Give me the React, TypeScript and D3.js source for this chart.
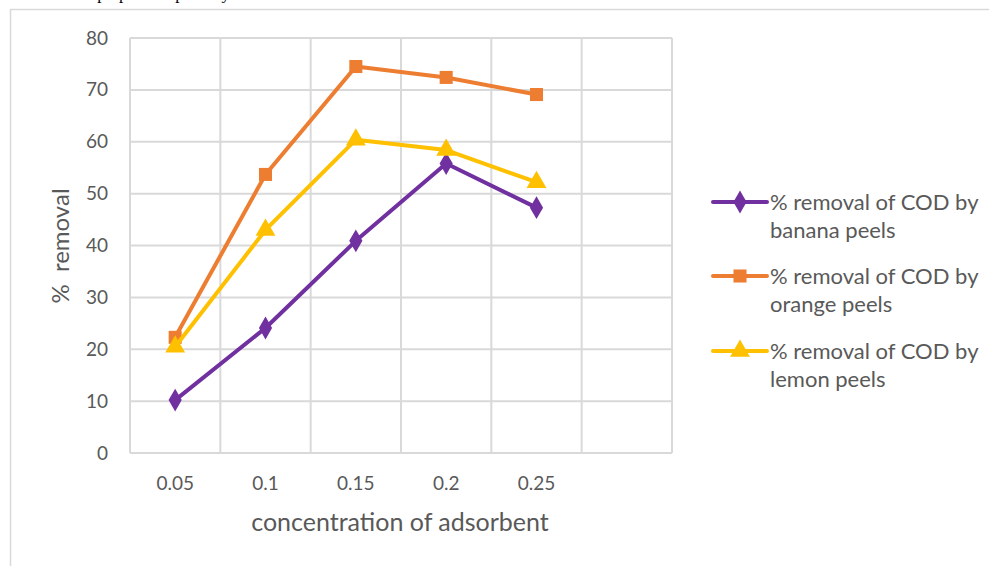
import { useRef, useEffect } from 'react';
import * as d3 from 'd3';

const categories = ['0.05', '0.1', '0.15', '0.2', '0.25', ' '];
const tickLabels = ['0.05', '0.1', '0.15', '0.2', '0.25'];
const yTicks = [0, 10, 20, 30, 40, 50, 60, 70, 80];

const banana = [10.2, 24.1, 40.9, 55.8, 47.3];
const orange = [22.3, 53.7, 74.5, 72.4, 69.1];
const lemon = [20.5, 43.0, 60.4, 58.4, 52.2];

const seriesNames = [
  ['% removal of COD by', 'banana peels'],
  ['% removal of COD by', 'orange peels'],
  ['% removal of COD by', 'lemon peels'],
];
const colors = ['#7030a0', '#ed7d31', '#ffc000'];
const symbols = [d3.symbolDiamond, d3.symbolSquare, d3.symbolTriangle];
const symbolSizes = [150, 170, 170];

const W = 989;
const H = 566;
const FONT = 'Lato, "Open Sans", sans-serif';

const App = () => {
  const svgRef = useRef<SVGSVGElement>(null);

  useEffect(() => {
    const svg = d3.select(svgRef.current);
    svg.selectAll('*').remove();

    // line of page text above the chart, only its descenders show
    svg.append('text')
      .attr('x', 60)
      .attr('y', -1)
      .attr('font-family', '"Liberation Serif", serif')
      .attr('font-size', 17)
      .attr('fill', '#000')
      .text('were prepared separately');

    // chart frame
    svg.append('rect')
      .attr('x', 10.5)
      .attr('y', 9.5)
      .attr('width', W + 20)
      .attr('height', H + 20)
      .attr('fill', '#fff')
      .attr('stroke', '#d9d9d9')
      .attr('stroke-width', 1.5);

    const xScale = d3.scaleBand<string>()
      .domain(categories)
      .range([130, 672])
      .padding(0);

    const yScale = d3.scaleLinear()
      .domain([0, 80])
      .range([453, 38]);

    const grid = svg.append('g').attr('stroke', '#d9d9d9').attr('stroke-width', 2);
    yTicks.forEach(t => {
      grid.append('line')
        .attr('x1', 130).attr('x2', 672)
        .attr('y1', yScale(t)).attr('y2', yScale(t));
    });
    [...categories.map(c => xScale(c) as number), 672].forEach(x => {
      grid.append('line')
        .attr('x1', x).attr('x2', x)
        .attr('y1', yScale(80)).attr('y2', yScale(0));
    });

    // y axis labels
    const yAxis = svg.append('g')
      .attr('transform', 'translate(130,0)')
      .call(d3.axisLeft(yScale).tickValues(yTicks).tickSize(0).tickPadding(22));
    yAxis.select('.domain').remove();
    yAxis.selectAll('text')
      .attr('font-family', FONT)
      .attr('font-size', 19)
      .attr('fill', '#595959');

    // x axis labels
    const xAxis = svg.append('g')
      .attr('transform', 'translate(0,453)')
      .call(d3.axisBottom(xScale).tickValues(tickLabels).tickSize(0).tickPadding(24));
    xAxis.select('.domain').remove();
    xAxis.selectAll('text')
      .attr('font-family', FONT)
      .attr('font-size', 19)
      .attr('fill', '#595959');

    // axis titles
    svg.append('text')
      .attr('transform', 'translate(69,246) rotate(-90)')
      .attr('text-anchor', 'middle')
      .attr('font-family', FONT)
      .attr('font-size', 24)
      .attr('fill', '#595959')
      .attr('xml:space', 'preserve')
      .style('white-space', 'pre')
      .text('%  removal');

    svg.append('text')
      .attr('x', 400)
      .attr('y', 531)
      .attr('text-anchor', 'middle')
      .attr('font-family', FONT)
      .attr('font-size', 25)
      .attr('fill', '#595959')
      .text('concentration of adsorbent');

    const xc = (i: number) => (xScale(categories[i]) as number) + xScale.bandwidth() / 2;
    const line = d3.line<number>()
      .x((_, i) => xc(i))
      .y(d => yScale(d));

    [banana, orange, lemon].forEach((vals, si) => {
      svg.append('path')
        .datum(vals)
        .attr('d', line)
        .attr('fill', 'none')
        .attr('stroke', colors[si])
        .attr('stroke-width', 4)
        .attr('stroke-linejoin', 'round');

      svg.append('g')
        .selectAll('path')
        .data(vals)
        .enter()
        .append('path')
        .attr('transform', (d, i) => `translate(${xc(i)},${yScale(d)})`)
        .attr('d', d3.symbol().type(symbols[si]).size(symbolSizes[si])())
        .attr('fill', colors[si]);
    });

    // legend
    const legendY = [202, 276, 351];
    seriesNames.forEach((name, si) => {
      const g = svg.append('g').attr('transform', `translate(0,${legendY[si]})`);
      g.append('line')
        .attr('x1', 713).attr('x2', 767)
        .attr('y1', 0).attr('y2', 0)
        .attr('stroke', colors[si])
        .attr('stroke-width', 4)
        .attr('stroke-linecap', 'round');
      g.append('path')
        .attr('transform', 'translate(740,0)')
        .attr('d', d3.symbol().type(symbols[si]).size(symbolSizes[si])())
        .attr('fill', colors[si]);
      name.forEach((ln, li) => {
        g.append('text')
          .attr('x', 770)
          .attr('y', 8 + li * 28)
          .attr('font-family', FONT)
          .attr('font-size', 22)
          .attr('fill', '#595959')
          .text(ln);
      });
    });
  }, []);

  return (
    <svg
      ref={svgRef}
      width={W}
      height={H}
      style={{ position: 'fixed', left: 0, top: 0, background: '#fff' }}
    ></svg>
  );
};

export default App;
